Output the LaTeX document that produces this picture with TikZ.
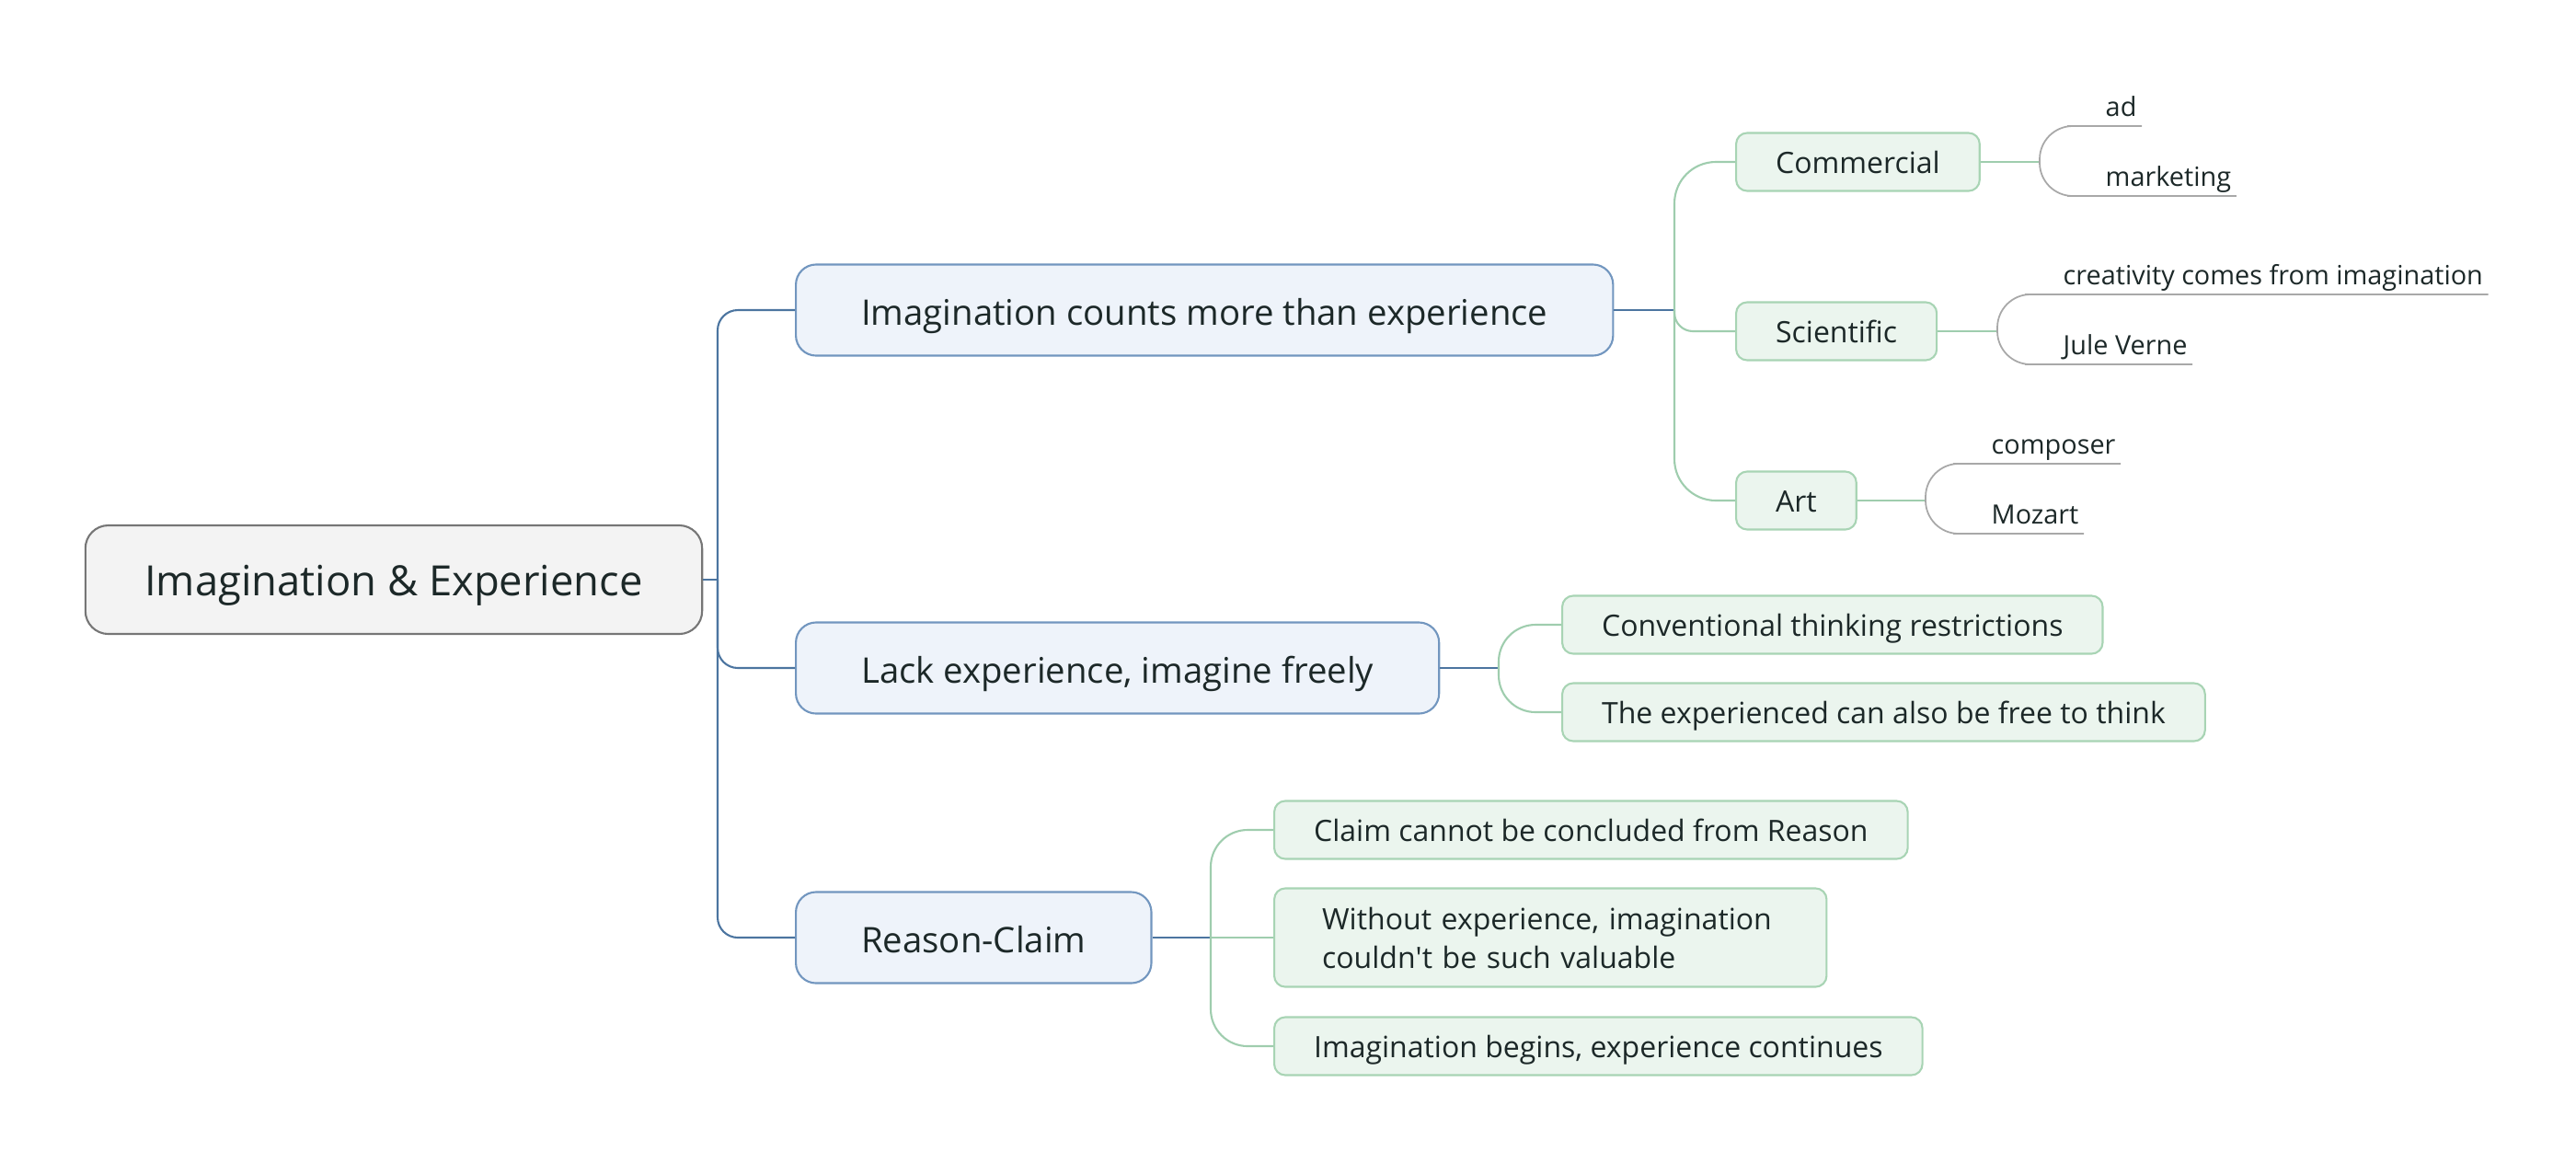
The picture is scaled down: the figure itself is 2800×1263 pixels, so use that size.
\documentclass[tikz,border=0pt]{standalone}
\usepackage{fontspec}
\setmainfont{Open Sans}
\usepackage{tikz}
\usetikzlibrary{positioning}
\definecolor{inkdark}{HTML}{1C2828}
\definecolor{rootgray}{HTML}{F3F3F3}
\definecolor{rootedge}{HTML}{767676}
\definecolor{topicfill}{HTML}{EEF3FA}
\definecolor{topicedge}{HTML}{7296BF}
\definecolor{trunkblue}{HTML}{4C75A0}
\definecolor{subfill}{HTML}{EBF5EE}
\definecolor{subedge}{HTML}{A8D4B4}
\definecolor{subgreen}{HTML}{9FCDAE}
\definecolor{leafgray}{HTML}{A8A8A8}

\begin{document}
\begin{tikzpicture}[
  x=0.01cm, y=-0.01cm,
  every node/.style={text=inkdark},
  rootbox/.style={rectangle, rounded corners=0.25cm, draw=rootedge, fill=rootgray, line width=0.6pt, minimum width=6.70cm, minimum height=1.18cm, text height=0.34cm, text depth=0pt, font=\fontsize{12.9pt}{15pt}\selectfont},
  topicbox/.style={rectangle, rounded corners=0.22cm, draw=topicedge, fill=topicfill, line width=0.6pt, anchor=west, inner xsep=0.71cm, minimum height=0.99cm, text height=0.33cm, text depth=0pt, font=\fontsize{10.9pt}{13pt}\selectfont},
  subbox/.style={rectangle, rounded corners=0.12cm, draw=subedge, fill=subfill, line width=0.6pt, anchor=west, inner xsep=0.43cm, minimum height=0.63cm, text height=0.25cm, text depth=0pt, font=\fontsize{9.1pt}{12.2pt}\selectfont},
  leaf/.style={anchor=south west, inner xsep=0.05cm, inner ysep=0pt, text depth=0.1cm, font=\fontsize{8.2pt}{9.8pt}\selectfont},
  trunk/.style={draw=trunkblue, line width=0.6pt},
  subline/.style={draw=subgreen, line width=0.6pt},
  leafline/.style={draw=leafgray, line width=0.5pt}
]
\useasboundingbox (0,0) rectangle (2800,1263);

% central topic and main branches
\node[rootbox] (root) at (428,630) {Imagination \& Experience};
\node[topicbox] (imag) at (864,337) {Imagination counts more than experience};
\node[topicbox] (lack) at (864,726) {Lack experience, imagine freely};
\node[topicbox] (reason) at (864,1019) {Reason-Claim};

% sub topics
\node[subbox] (comm) at (1886,176) {Commercial};
\node[subbox] (sci) at (1886,360) {Scientific};
\node[subbox] (art) at (1886,544) {Art};
\node[subbox] (conv) at (1697,679) {Conventional thinking restrictions};
\node[subbox] (free) at (1697,774) {The experienced can also be free to think};
\node[subbox] (claim) at (1384,902) {Claim cannot be concluded from Reason};
\node[subbox, inner xsep=0.52cm, text width=4.96cm, align=left, minimum height=1.07cm, text depth=0.43cm] (without) at (1384,1019) {Without experience, imagination\\couldn\textquotesingle t be such valuable};
\node[subbox] (begins) at (1384,1137) {Imagination begins, experience continues};

% leaves
\node[leaf] (ad) at (2283,137) {ad};
\node[leaf] (mkt) at (2283,213) {marketing};
\node[leaf] (crea) at (2237,320) {creativity comes from imagination};
\node[leaf] (jule) at (2237,396) {Jule Verne};
\node[leaf] (compo) at (2159,504) {composer};
\node[leaf] (mozart) at (2159,580) {Mozart};

% joints
\coordinate (rj) at (780,630);
\coordinate (ij) at (1820,337);
\coordinate (lj) at (1629,726);
\coordinate (rcj) at (1316,1019);
\coordinate (cj) at (2217,176);
\coordinate (sj) at (2171,360);
\coordinate (aj) at (2093,544);

% trunk
\draw[trunk] (root.east) -- (rj);
\draw[trunk, rounded corners=0.22cm] (imag.west) -| (rj) |- (reason.west);
\draw[trunk, rounded corners=0.22cm] (rj) |- (lack.west);

% main branches to sub topics
\draw[trunk] (imag.east) -- (ij);
\draw[subline, rounded corners=0.45cm] (comm.west) -| (ij) |- (art.west);
\draw[subline, rounded corners=0.2cm] (ij) |- (sci.west);
\draw[trunk] (lack.east) -- (lj);
\draw[subline, rounded corners=0.4cm] (conv.west) -| (lj);
\draw[subline, rounded corners=0.4cm] (lj) |- (free.west);
\draw[trunk] (reason.east) -- (rcj);
\draw[subline, rounded corners=0.4cm] (claim.west) -| (rcj) |- (begins.west);
\draw[subline] (rcj) -- (without.west);

% sub topics to leaves
\draw[subline] (comm.east) -- (cj);
\draw[leafline, rounded corners=0.36cm] (ad.south east) -- (ad.south west) -| (cj);
\draw[leafline, rounded corners=0.36cm] (cj) |- (mkt.south west) -- (mkt.south east);
\draw[subline] (sci.east) -- (sj);
\draw[leafline, rounded corners=0.36cm] (crea.south east) -- (crea.south west) -| (sj);
\draw[leafline, rounded corners=0.36cm] (sj) |- (jule.south west) -- (jule.south east);
\draw[subline] (art.east) -- (aj);
\draw[leafline, rounded corners=0.36cm] (compo.south east) -- (compo.south west) -| (aj);
\draw[leafline, rounded corners=0.36cm] (aj) |- (mozart.south west) -- (mozart.south east);
\end{tikzpicture}
\end{document}
